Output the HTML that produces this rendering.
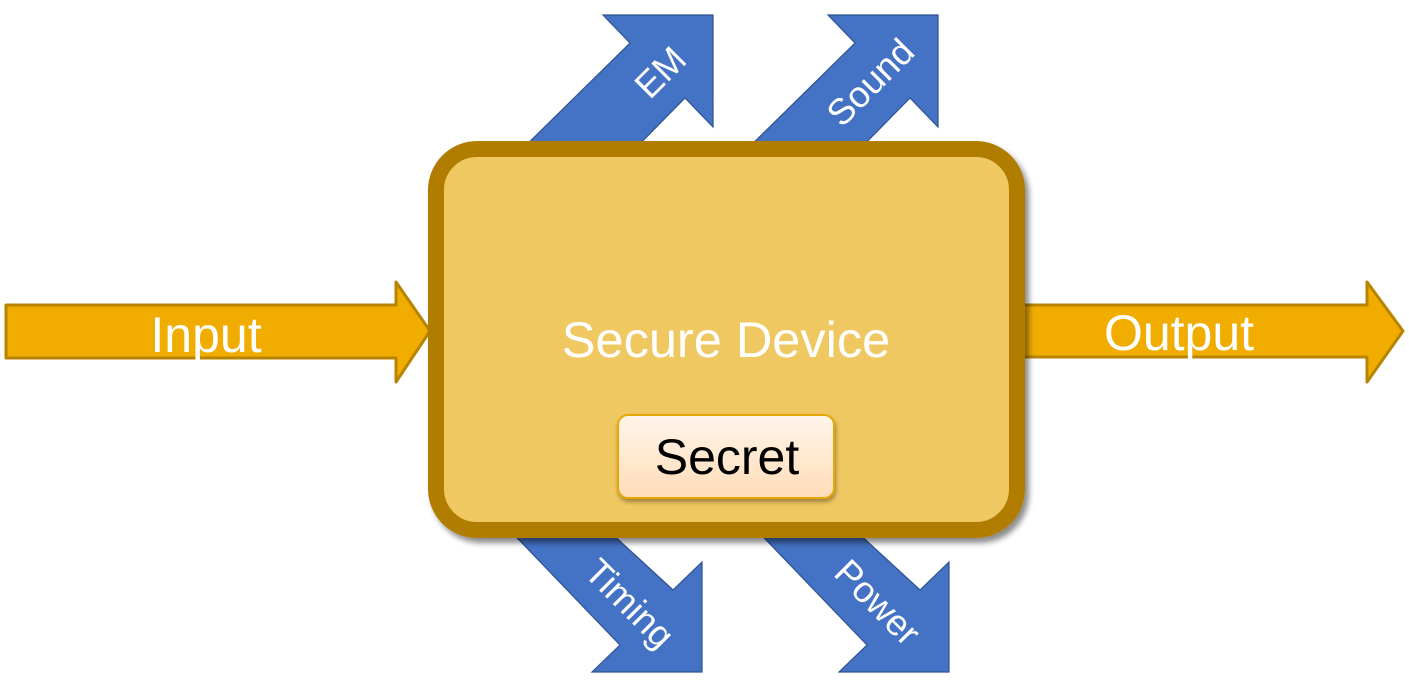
<!DOCTYPE html>
<html><head><meta charset="utf-8"><style>
html,body{margin:0;padding:0;background:#fff;}
svg{display:block;}
text{font-family:"Liberation Sans",Arial,sans-serif;}
</style></head><body>
<svg width="1409" height="681" viewBox="0 0 1409 681" xmlns="http://www.w3.org/2000/svg">
<defs>
<filter id="sh" x="-10%" y="-10%" width="130%" height="130%">
<feDropShadow dx="4" dy="5" stdDeviation="3" flood-color="#000" flood-opacity="0.45"/>
</filter>
<filter id="sh2" x="-10%" y="-10%" width="130%" height="140%">
<feDropShadow dx="1" dy="3" stdDeviation="2" flood-color="#000" flood-opacity="0.35"/>
</filter>
<linearGradient id="sg" x1="0" y1="0" x2="0" y2="1">
<stop offset="0" stop-color="#fff5ea"/>
<stop offset="1" stop-color="#ffdcb8"/>
</linearGradient>
</defs>

<!-- blue arrows -->
<g fill="#4472c4" stroke="#2f528f" stroke-width="1.2" stroke-linejoin="miter">
<polygon points="603,15 713,15 713,127 685,98 619,165 506,165 630,43"/>
<polygon points="828,15 938,15 938,127 910,98 844,165 731,165 855,43"/>
<polygon points="702,562 702,672 592,672 620,645 500,520 597,520 673,590"/>
<polygon points="949,562 949,672 839,672 867,645 747,520 844,520 920,590"/>
</g>

<!-- yellow arrows -->
<g fill="#f0ad00" stroke="#b88400" stroke-width="3" stroke-linejoin="round">
<polygon points="6,305 396,305 396,282 430,331 396,382 396,358 6,358"/>
<polygon points="1005,305 1367,305 1367,282 1403,331 1367,382 1367,357 1005,357"/>
</g>

<!-- main box -->
<rect x="436" y="149" width="581" height="381" rx="41" ry="41" fill="#f0c862" stroke="#b07d00" stroke-width="16" filter="url(#sh)"/>

<!-- secret -->
<rect x="618" y="415" width="216" height="83" rx="10" ry="10" fill="url(#sg)" stroke="#e6a800" stroke-width="2" filter="url(#sh2)"/>

<g fill="#fff" text-anchor="middle">
<text x="206" y="352" font-size="50">Input</text>
<text x="1179" y="350" font-size="50">Output</text>
<text x="726" y="357" font-size="50.5">Secure Device</text>
<text transform="translate(660,72) rotate(-45)" y="13" font-size="36.5">EM</text>
<text transform="translate(870,82) rotate(-45)" y="13" font-size="36.5">Sound</text>
<text transform="translate(630,603) rotate(45)" y="13" font-size="36.5">Timing</text>
<text transform="translate(878,602) rotate(45)" y="13" font-size="36.5">Power</text>
</g>
<text x="727" y="474" font-size="50" text-anchor="middle" fill="#000">Secret</text>
</svg>
</body></html>
